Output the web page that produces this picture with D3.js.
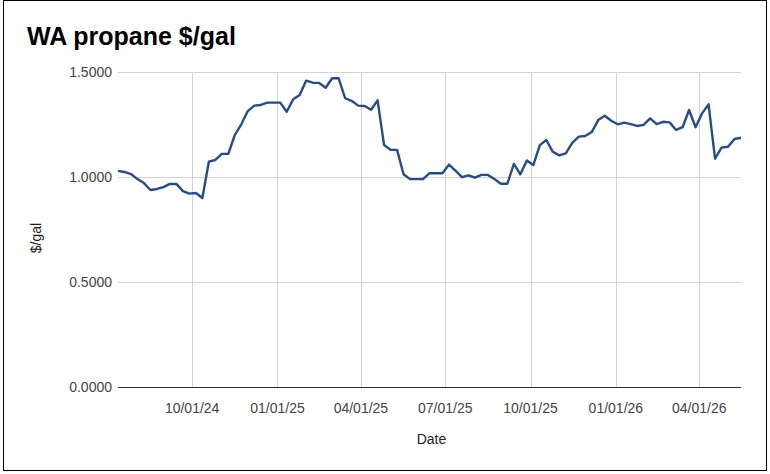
<!DOCTYPE html>
<html lang="en">
<head>
    <meta charset="UTF-8">
    <title>WA propane $/gal</title>
    <script src="https://d3js.org/d3.v7.min.js"></script>
    <style>
        body {
            margin: 0;
            background-color: #ffffff;
            font-family: "Liberation Sans", Arial, sans-serif;
        }
        svg { display: block; }
    </style>
</head>
<body>
    <svg id="chart" width="770" height="474"></svg>
    <script>
        // weekly observations
        const dates = [
            "2024-07-13", "2024-07-20", "2024-07-27", "2024-08-03", "2024-08-10", "2024-08-17", "2024-08-24", "2024-08-31",
            "2024-09-07", "2024-09-14", "2024-09-21", "2024-09-28", "2024-10-05", "2024-10-12", "2024-10-19", "2024-10-26",
            "2024-11-02", "2024-11-09", "2024-11-16", "2024-11-23", "2024-11-30", "2024-12-07", "2024-12-14", "2024-12-21",
            "2024-12-28", "2025-01-04", "2025-01-11", "2025-01-18", "2025-01-25", "2025-02-01", "2025-02-08", "2025-02-15",
            "2025-02-22", "2025-03-01", "2025-03-08", "2025-03-15", "2025-03-22", "2025-03-29", "2025-04-05", "2025-04-12",
            "2025-04-19", "2025-04-26", "2025-05-03", "2025-05-10", "2025-05-17", "2025-05-24", "2025-05-31", "2025-06-07",
            "2025-06-14", "2025-06-21", "2025-06-28", "2025-07-05", "2025-07-12", "2025-07-19", "2025-07-26", "2025-08-02",
            "2025-08-09", "2025-08-16", "2025-08-23", "2025-08-30", "2025-09-06", "2025-09-13", "2025-09-20", "2025-09-27",
            "2025-10-04", "2025-10-11", "2025-10-18", "2025-10-25", "2025-11-01", "2025-11-08", "2025-11-15", "2025-11-22",
            "2025-11-29", "2025-12-06", "2025-12-13", "2025-12-20", "2025-12-27", "2026-01-03", "2026-01-10", "2026-01-17",
            "2026-01-24", "2026-01-31", "2026-02-07", "2026-02-14", "2026-02-21", "2026-02-28", "2026-03-07", "2026-03-14",
            "2026-03-21", "2026-03-28", "2026-04-04", "2026-04-11", "2026-04-18", "2026-04-25", "2026-05-02", "2026-05-09",
            "2026-05-16"
        ];
        const prices = [
            1.029, 1.024, 1.014, 0.990, 0.971, 0.938, 0.943, 0.952, 0.967, 0.967, 0.933, 0.921, 0.924, 0.900, 1.073, 1.081,
            1.110, 1.110, 1.200, 1.251, 1.314, 1.340, 1.343, 1.354, 1.354, 1.354, 1.311, 1.370, 1.390, 1.459, 1.449, 1.448,
            1.425, 1.470, 1.470, 1.375, 1.363, 1.340, 1.338, 1.320, 1.365, 1.152, 1.130, 1.129, 1.013, 0.990, 0.990, 0.990,
            1.018, 1.018, 1.018, 1.059, 1.030, 0.999, 1.008, 0.997, 1.010, 1.010, 0.990, 0.968, 0.968, 1.062, 1.013, 1.079,
            1.057, 1.152, 1.176, 1.120, 1.103, 1.113, 1.163, 1.192, 1.195, 1.214, 1.271, 1.292, 1.268, 1.251, 1.259, 1.252,
            1.243, 1.248, 1.279, 1.252, 1.263, 1.260, 1.224, 1.237, 1.319, 1.237, 1.303, 1.346, 1.087, 1.140, 1.144, 1.181,
            1.187
        ];
        const yTicks = [0, 0.5, 1.0, 1.5];
        const xTicks = ["2024-10-01", "2025-01-01", "2025-04-01", "2025-07-01", "2025-10-01", "2026-01-01", "2026-04-01"];

        const parseDate = d3.timeParse('%Y-%m-%d');
        const fmtDate = d3.timeFormat('%m/%d/%y');
        const data = dates.map((d, i) => ({ date: parseDate(d), value: prices[i] }));

        const svg = d3.select('#chart');
        const plot = { left: 118, right: 741, top: 72, bottom: 387 };

        // frame around the embedded chart
        svg.append('rect')
           .attr('x', 3.5).attr('y', 0.5)
           .attr('width', 763).attr('height', 470)
           .attr('fill', '#fff')
           .attr('stroke', '#000')
           .attr('stroke-width', 1);

        const xScale = d3.scaleTime()
                         .domain(d3.extent(data, d => d.date))
                         .range([plot.left, plot.right]);
        const yScale = d3.scaleLinear()
                         .domain([0, 1.5])
                         .range([plot.bottom, plot.top]);

        // vertical gridlines
        svg.append('g')
           .selectAll('line')
           .data(xTicks.map(parseDate))
           .join('line')
           .attr('x1', d => Math.round(xScale(d)) + 0.5)
           .attr('x2', d => Math.round(xScale(d)) + 0.5)
           .attr('y1', plot.top).attr('y2', plot.bottom)
           .attr('stroke', '#d4d4d4');

        // horizontal gridlines
        svg.append('g')
           .selectAll('line')
           .data(yTicks)
           .join('line')
           .attr('x1', plot.left).attr('x2', plot.right)
           .attr('y1', d => Math.round(yScale(d)) + 0.5)
           .attr('y2', d => Math.round(yScale(d)) + 0.5)
           .attr('stroke', d => d === 0 ? '#333333' : '#d4d4d4');

        // y tick labels
        svg.append('g')
           .selectAll('text')
           .data(yTicks)
           .join('text')
           .attr('x', 112)
           .attr('y', d => yScale(d))
           .attr('dy', '0.35em')
           .attr('text-anchor', 'end')
           .attr('font-size', 14)
           .attr('fill', '#444444')
           .text(d => d3.format('.4f')(d));

        // x tick labels
        svg.append('g')
           .selectAll('text')
           .data(xTicks.map(parseDate))
           .join('text')
           .attr('x', d => xScale(d))
           .attr('y', 413)
           .attr('text-anchor', 'middle')
           .attr('font-size', 14)
           .attr('fill', '#444444')
           .text(d => fmtDate(d));

        // line
        const line = d3.line()
                       .x(d => xScale(d.date))
                       .y(d => yScale(d.value));
        svg.append('path')
           .datum(data)
           .attr('fill', 'none')
           .attr('stroke', '#274c8d')
           .attr('stroke-width', 2.4)
           .attr('stroke-linejoin', 'round')
           .attr('d', line);

        // titles
        svg.append('text')
           .attr('x', 27).attr('y', 45)
           .attr('font-size', 25)
           .attr('font-weight', 'bold')
           .attr('fill', '#000')
           .text('WA propane $/gal');

        svg.append('text')
           .attr('x', (plot.left + plot.right) / 2 + 2).attr('y', 444)
           .attr('text-anchor', 'middle')
           .attr('font-size', 14)
           .attr('fill', '#222')
           .text('Date');

        svg.append('text')
           .attr('transform', 'translate(41,238) rotate(-90)')
           .attr('text-anchor', 'middle')
           .attr('font-size', 14)
           .attr('fill', '#222')
           .text('$/gal');
    </script>
</body>
</html>
